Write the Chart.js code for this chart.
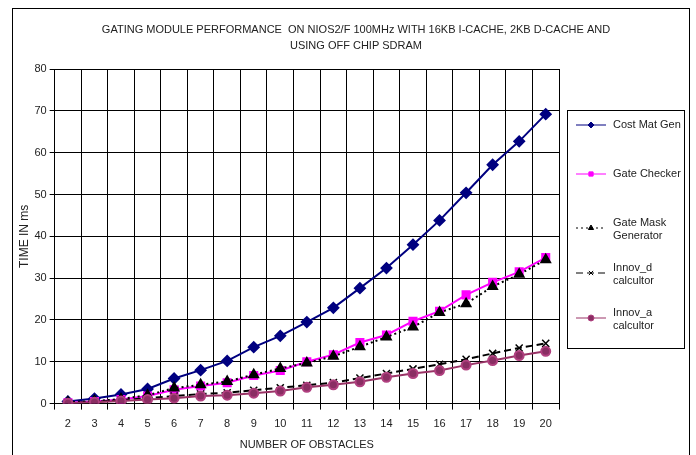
<!DOCTYPE html>
<html>
<head>
<meta charset="utf-8">
<script src="https://cdn.jsdelivr.net/npm/chart.js@4.4.1/dist/chart.umd.min.js"></script>
<style>
  html, body { margin: 0; padding: 0; background: #fff; }
  #wrap { width: 696px; height: 455px; position: relative; }
</style>
</head>
<body>
<div id="wrap"><canvas id="chart"></canvas></div>
<script>
// number of obstacles
const obstacles = ['2','3','4','5','6','7','8','9','10','11','12','13','14','15','16','17','18','19','20'];

// time in ms
const costMatGen    = [0.5, 1.2, 2.2, 3.5, 6.0, 8.0, 10.2, 13.5, 16.2, 19.5, 22.9, 27.6, 32.4, 38.0, 43.8, 50.4, 57.1, 62.7, 69.2];
const gateChecker   = [0.2, 0.5, 1.0, 1.8, 3.3, 4.2, 5.0, 6.7, 7.9, 10.0, 11.7, 14.6, 16.4, 19.7, 22.1, 26.0, 29.0, 31.5, 34.9];
const gateMaskGen   = [0.3, 0.6, 1.1, 2.0, 3.7, 4.5, 5.3, 6.9, 8.4, 9.7, 11.3, 13.6, 15.9, 18.3, 21.8, 23.9, 28.0, 30.9, 34.4];
const innovD        = [0.2, 0.4, 0.8, 1.3, 1.8, 2.3, 2.6, 3.2, 3.8, 4.4, 5.0, 6.1, 7.2, 8.3, 9.4, 10.6, 12.0, 13.3, 14.4];
const innovA        = [0.1, 0.3, 0.6, 1.0, 1.3, 1.8, 2.0, 2.5, 3.0, 3.9, 4.5, 5.2, 6.3, 7.2, 7.9, 9.2, 10.3, 11.5, 12.5];

const yTicks = [0, 10, 20, 30, 40, 50, 60, 70, 80];

const titleLines = ['GATING MODULE PERFORMANCE  ON NIOS2/F 100MHz WITH 16KB I-CACHE, 2KB D-CACHE AND', 'USING OFF CHIP SDRAM'];

// Legend drawn as a boxed panel, entries may wrap on two lines like the original
const legendNames = [['Cost Mat Gen'], ['Gate Checker'], ['Gate Mask', 'Generator'], ['Innov_d', 'calcultor'], ['Innov_a', 'calcultor']];

const FONT = 'Liberation Sans, Arial, sans-serif';

const boxLegend = {
    id: 'boxLegend',
    afterDraw(chart) {
        const ctx = chart.ctx;
        const area = chart.chartArea;
        ctx.save();
        // outer frame of the whole chart
        ctx.strokeStyle = '#000';
        ctx.lineWidth = 1;
        ctx.strokeRect(12.5, 8.5, 677, 470);

        // title, centred over the whole frame
        ctx.fillStyle = '#222';
        ctx.font = '11px ' + FONT;
        ctx.textAlign = 'center';
        ctx.textBaseline = 'middle';
        titleLines.forEach((t, k) => ctx.fillText(t, 356, 30 + k * 16));
        ctx.textAlign = 'left';

        const left = area.right + 8;
        const top = area.top + 41;
        const w = 117, h = 238;
        ctx.strokeRect(left + 0.5, top + 0.5, w, h);

        const rowY = [15, 64, 118, 163, 208];
        chart.data.datasets.forEach((ds, i) => {
            const y = top + rowY[i];
            const x0 = left + 9, x1 = left + 39;
            ctx.beginPath();
            ctx.setLineDash(ds.borderDash || []);
            ctx.strokeStyle = ds.borderColor;
            ctx.lineWidth = 1;
            ctx.moveTo(x0, y);
            ctx.lineTo(x1, y);
            ctx.stroke();
            ctx.setLineDash([]);
            ctx.fillStyle = ds.pointBackgroundColor;
            ctx.strokeStyle = ds.pointBorderColor;
            Chart.helpers.drawPoint(ctx, {
                pointStyle: ds.pointStyle, radius: 3, borderWidth: 1, rotation: 0
            }, (x0 + x1) / 2, y);

            ctx.fillStyle = '#222';
            ctx.font = '11px ' + FONT;
            ctx.textBaseline = 'middle';
            const lines = legendNames[i];
            const lh = 13;
            const startY = lines.length === 1 ? y : y - lh / 2 + 1;
            lines.forEach((t, k) => ctx.fillText(t, left + 46, startY + k * lh));
        });
        ctx.restore();
    }
};

new Chart(document.getElementById('chart'), {
    type: 'line',
    data: {
        labels: obstacles,
        datasets: [
            {
                label: 'Cost Mat Gen', data: costMatGen, order: 5,
                borderColor: '#000080', borderWidth: 2,
                pointStyle: 'rectRot', pointRadius: 5,
                pointBackgroundColor: '#000080', pointBorderColor: '#000080'
            },
            {
                label: 'Gate Checker', data: gateChecker, order: 4,
                borderColor: '#ff00ff', borderWidth: 2,
                pointStyle: 'rect', pointRadius: 5,
                pointBackgroundColor: '#ff00ff', pointBorderColor: '#ff00ff'
            },
            {
                label: 'Gate Mask Generator', data: gateMaskGen, order: 3,
                borderColor: '#000', borderWidth: 2, borderDash: [2, 3],
                pointStyle: 'triangle', pointRadius: 5,
                pointBackgroundColor: '#000', pointBorderColor: '#000'
            },
            {
                label: 'Innov_d calcultor', data: innovD, order: 2,
                borderColor: '#000', borderWidth: 2, borderDash: [7, 4],
                pointStyle: 'crossRot', pointRadius: 5, pointBorderWidth: 1.5,
                pointBackgroundColor: '#000', pointBorderColor: '#000'
            },
            {
                label: 'Innov_a calcultor', data: innovA, order: 1,
                borderColor: '#993366', borderWidth: 2,
                pointStyle: 'circle', pointRadius: 4.5,
                pointBackgroundColor: '#8a2e63', pointBorderColor: '#b0407f'
            }
        ]
    },
    options: {
        responsive: true,
        maintainAspectRatio: false,
        animation: false,
        layout: { padding: { left: 17, right: 137, top: 69, bottom: 3 } },
        plugins: {
            legend: { display: false },
            tooltip: { enabled: false },
            title: { display: false }
        },
        elements: { line: { tension: 0 } },
        scales: {
            x: {
                offset: true,
                grid: { offset: true, color: '#000', lineWidth: 1, tickLength: 6 },
                border: { color: '#000' },
                ticks: { color: '#222', font: { family: FONT, size: 11 }, maxRotation: 0, padding: 8 },
                title: {
                    display: true, text: 'NUMBER OF OBSTACLES', color: '#222',
                    font: { family: FONT, size: 11 }, padding: { top: 0, bottom: 0 }
                }
            },
            y: {
                min: 0, max: 80,
                afterBuildTicks: (axis) => { axis.ticks = yTicks.map(v => ({ value: v })); },
                grid: { color: '#000', lineWidth: 1, tickLength: 5 },
                border: { color: '#000' },
                ticks: { color: '#222', font: { family: FONT, size: 11 }, padding: 3 },
                title: {
                    display: true, text: 'TIME IN ms', color: '#222',
                    font: { family: FONT, size: 12 }, padding: { top: 0, bottom: 0 }
                }
            }
        }
    },
    plugins: [boxLegend]
});
</script>
</body>
</html>
